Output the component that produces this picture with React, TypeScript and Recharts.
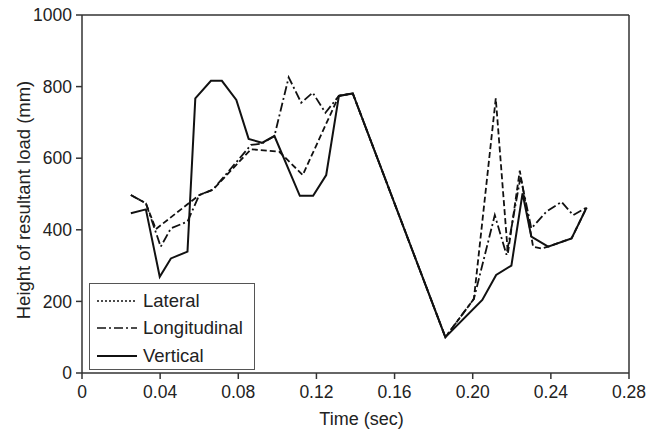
import React from 'react';
import { LineChart, Line, XAxis, YAxis, ReferenceLine, Legend } from 'recharts';

const lateral = [
  { t: 0.025, v: 497 }, { t: 0.0327, v: 474 }, { t: 0.0378, v: 402 }, { t: 0.06, v: 497 },
  { t: 0.067, v: 512 }, { t: 0.0865, v: 625 }, { t: 0.101, v: 618 }, { t: 0.113, v: 553 },
  { t: 0.1315, v: 774 }, { t: 0.1386, v: 781 }, { t: 0.186, v: 100 }, { t: 0.2006, v: 207 },
  { t: 0.2118, v: 767 }, { t: 0.218, v: 334 }, { t: 0.2241, v: 565 }, { t: 0.2309, v: 353 },
  { t: 0.2352, v: 348 }, { t: 0.2386, v: 353 }, { t: 0.2506, v: 376 }, { t: 0.2583, v: 462 },
];

const longitudinal = [
  { t: 0.025, v: 497 }, { t: 0.0327, v: 474 }, { t: 0.0403, v: 353 }, { t: 0.0455, v: 404 },
  { t: 0.054, v: 423 }, { t: 0.06, v: 497 }, { t: 0.067, v: 512 }, { t: 0.0865, v: 637 },
  { t: 0.0921, v: 641 }, { t: 0.0985, v: 662 }, { t: 0.1058, v: 826 }, { t: 0.1122, v: 755 },
  { t: 0.1181, v: 783 }, { t: 0.1246, v: 727 }, { t: 0.1315, v: 774 }, { t: 0.1386, v: 781 },
  { t: 0.186, v: 100 }, { t: 0.2006, v: 207 }, { t: 0.2113, v: 441 }, { t: 0.2173, v: 330 },
  { t: 0.2245, v: 548 }, { t: 0.23, v: 404 }, { t: 0.2378, v: 451 }, { t: 0.2455, v: 478 },
  { t: 0.2514, v: 441 }, { t: 0.2583, v: 462 },
];

const vertical = [
  { t: 0.025, v: 446 }, { t: 0.0327, v: 457 }, { t: 0.0398, v: 269 }, { t: 0.0455, v: 320 },
  { t: 0.054, v: 339 }, { t: 0.058, v: 767 }, { t: 0.066, v: 816 }, { t: 0.0716, v: 816 },
  { t: 0.079, v: 763 }, { t: 0.0853, v: 654 }, { t: 0.0921, v: 643 }, { t: 0.0985, v: 662 },
  { t: 0.1115, v: 495 }, { t: 0.1183, v: 495 }, { t: 0.125, v: 553 }, { t: 0.1315, v: 774 },
  { t: 0.1386, v: 781 }, { t: 0.186, v: 100 }, { t: 0.2049, v: 204 }, { t: 0.212, v: 274 },
  { t: 0.2198, v: 300 }, { t: 0.2255, v: 502 }, { t: 0.23, v: 381 }, { t: 0.2386, v: 353 },
  { t: 0.2506, v: 376 }, { t: 0.2583, v: 462 },
];

const xTicks = [0, 0.04, 0.08, 0.12, 0.16, 0.2, 0.24, 0.28];
const yTicks = [0, 200, 400, 600, 800, 1000];

const seriesNames = ['Lateral', 'Longitudinal', 'Vertical'];
const legendDash = ['2 2', '9 3 2 3', ''];

const FONT = '"Liberation Sans", Arial, Helvetica, sans-serif';
const INK = '#111';
const AXIS = '#333';

const LegendBox = () => (
  <div
    style={{
      border: '1.5px solid #555',
      width: 166,
      height: 87,
      boxSizing: 'border-box',
      padding: '3px 0 0 7px',
      fontFamily: FONT,
      fontSize: 18.5,
      color: '#222',
      background: '#fff',
    }}
  >
    {seriesNames.map((n, i) => (
      <div key={n} style={{ display: 'flex', alignItems: 'center', height: 27.5 }}>
        <svg width={40} height={10} style={{ marginRight: 6 }}>
          <line x1={0} y1={5} x2={40} y2={5} stroke={INK} strokeWidth={i === 2 ? 2 : 1.6} strokeDasharray={legendDash[i]} />
        </svg>
        <span>{n}</span>
      </div>
    ))}
  </div>
);

export default function App() {
  return (
    <div style={{ position: 'absolute', left: 0, top: 0, background: '#fff' }}>
      <LineChart width={661} height={430} margin={{ top: 15, right: 32, bottom: 0, left: 0 }}>
        <XAxis
          dataKey="t"
          type="number"
          domain={[0, 0.28]}
          ticks={xTicks}
          allowDuplicatedCategory={false}
          tickFormatter={(v: number) => (v === 0 ? '0' : v.toFixed(2))}
          height={57}
          stroke={AXIS}
          strokeWidth={1.5}
          tickSize={6}
          tickMargin={7}
          tick={{ fill: '#222', fontSize: 17.5, fontFamily: FONT }}
          label={{ value: 'Time (sec)', position: 'insideBottom', offset: 5, dx: 6, fill: '#222', fontSize: 18, fontFamily: FONT }}
        />
        <YAxis
          dataKey="v"
          type="number"
          domain={[0, 1000]}
          ticks={yTicks}
          width={82}
          stroke={AXIS}
          strokeWidth={1.5}
          tickSize={6}
          tickMargin={4}
          tick={{ fill: '#222', fontSize: 17.5, fontFamily: FONT }}
          label={{
            value: 'Height of resultant load (mm)',
            angle: -90,
            position: 'insideLeft',
            offset: 23,
            dy: 6,
            style: { textAnchor: 'middle' },
            fill: '#222',
            fontSize: 18.5,
            fontFamily: FONT,
          }}
        />
        <ReferenceLine y={1000} stroke={AXIS} strokeWidth={1.5} />
        <ReferenceLine x={0.28} stroke={AXIS} strokeWidth={1.5} />
        <Line data={lateral} dataKey="v" name="Lateral" type="linear" stroke={INK} strokeWidth={1.8} strokeDasharray="6 3" dot={false} isAnimationActive={false} />
        <Line data={longitudinal} dataKey="v" name="Longitudinal" type="linear" stroke={INK} strokeWidth={1.8} strokeDasharray="9 3 2 3" dot={false} isAnimationActive={false} />
        <Line data={vertical} dataKey="v" name="Vertical" type="linear" stroke={INK} strokeWidth={2} dot={false} isAnimationActive={false} />
        <Legend
          layout="vertical"
          align="center"
          verticalAlign="middle"
          content={() => <LegendBox />}
          wrapperStyle={{ left: 89, top: 283, width: 166, height: 87 }}
        />
      </LineChart>
    </div>
  );
}
